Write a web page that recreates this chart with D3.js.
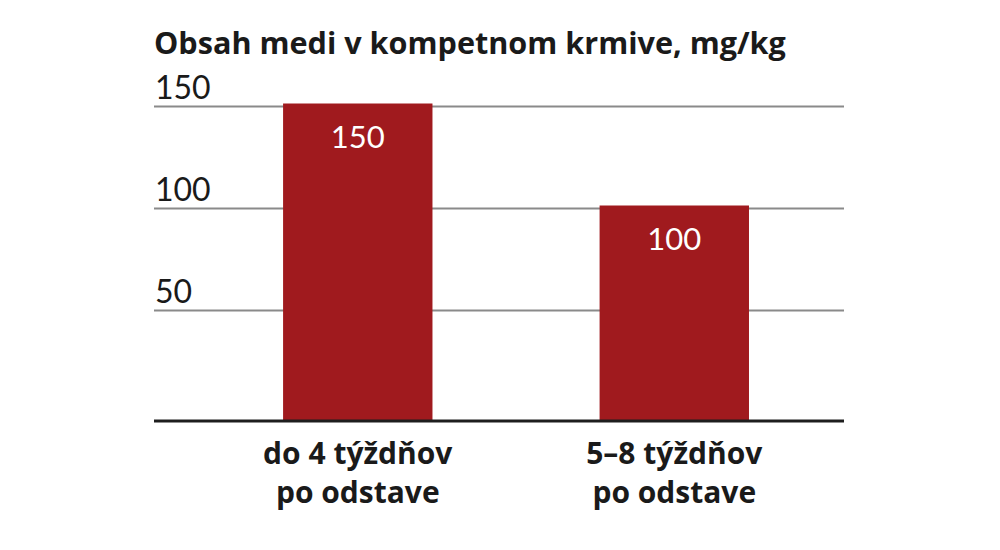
<!DOCTYPE html>
<html>
<head>
<meta charset="utf-8">
<script src="https://cdn.jsdelivr.net/npm/d3@7"></script>
<style>
  html, body { margin: 0; padding: 0; background: #ffffff; }
  svg { display: block; }
  text { font-family: Lato, "Open Sans", sans-serif; }
  .bold { font-family: "Open Sans", Lato, sans-serif; }
</style>
</head>
<body>
<div id="chart"></div>
<script>
const title = "Obsah medi v kompetnom krmive, mg/kg";
const categories = [["do 4 týždňov", "po odstave"], ["5–8 týždňov", "po odstave"]];
const values = [150, 100];
const tickValues = [50, 100, 150];

const W = 1000, H = 550;
const left = 154, right = 844, baseY = 421;

const svg = d3.select("#chart").append("svg").attr("width", W).attr("height", H);

const x = d3.scaleBand()
  .domain(d3.range(values.length))
  .range([left, right])
  .paddingInner(0.528)
  .paddingOuter(0.354)
  .align(0.576);

const y = d3.scaleLinear().domain([0, 150]).range([412.5, 106.5]);

// gridlines
svg.append("g").selectAll("line").data(tickValues).join("line")
  .attr("x1", left).attr("x2", right)
  .attr("y1", d => y(d)).attr("y2", d => y(d))
  .attr("stroke", "#8a8a8a").attr("stroke-width", 2);

// tick labels
svg.append("g").selectAll("text").data(tickValues).join("text")
  .attr("x", left + 1).attr("y", d => y(d) - 8)
  .attr("font-size", 32).attr("fill", "#1a1a1a")
  .text(d => d);

// bars
svg.append("g").selectAll("rect").data(values).join("rect")
  .attr("x", (d, i) => x(i)).attr("width", x.bandwidth())
  .attr("y", d => y(d) - 3).attr("height", d => baseY - y(d) + 3)
  .attr("fill", "#a01a1e");

// value labels
svg.append("g").selectAll("text").data(values).join("text")
  .attr("x", (d, i) => x(i) + x.bandwidth() / 2)
  .attr("y", d => y(d) + 41)
  .attr("text-anchor", "middle")
  .attr("font-size", 31).attr("fill", "#ffffff")
  .text(d => d);

// baseline
svg.append("line")
  .attr("x1", left).attr("x2", right)
  .attr("y1", baseY).attr("y2", baseY)
  .attr("stroke", "#1e1e1e").attr("stroke-width", 3);

// category labels
const cat = svg.append("g").selectAll("text").data(categories).join("text")
  .attr("class", "bold")
  .attr("x", (d, i) => x(i) + x.bandwidth() / 2)
  .attr("y", 464)
  .attr("text-anchor", "middle")
  .attr("font-size", 30).attr("font-weight", "bold").attr("fill", "#1a1a1a");
cat.selectAll("tspan").data(d => d).join("tspan")
  .attr("x", function() { return d3.select(this.parentNode).attr("x"); })
  .attr("dy", (d, i) => i === 0 ? 0 : 39)
  .text(d => d);

// title
svg.append("text")
  .attr("class", "bold")
  .attr("x", 154).attr("y", 54)
  .attr("font-size", 30.6).attr("font-weight", "bold").attr("fill", "#1a1a1a")
  .text(title);
</script>
</body>
</html>
